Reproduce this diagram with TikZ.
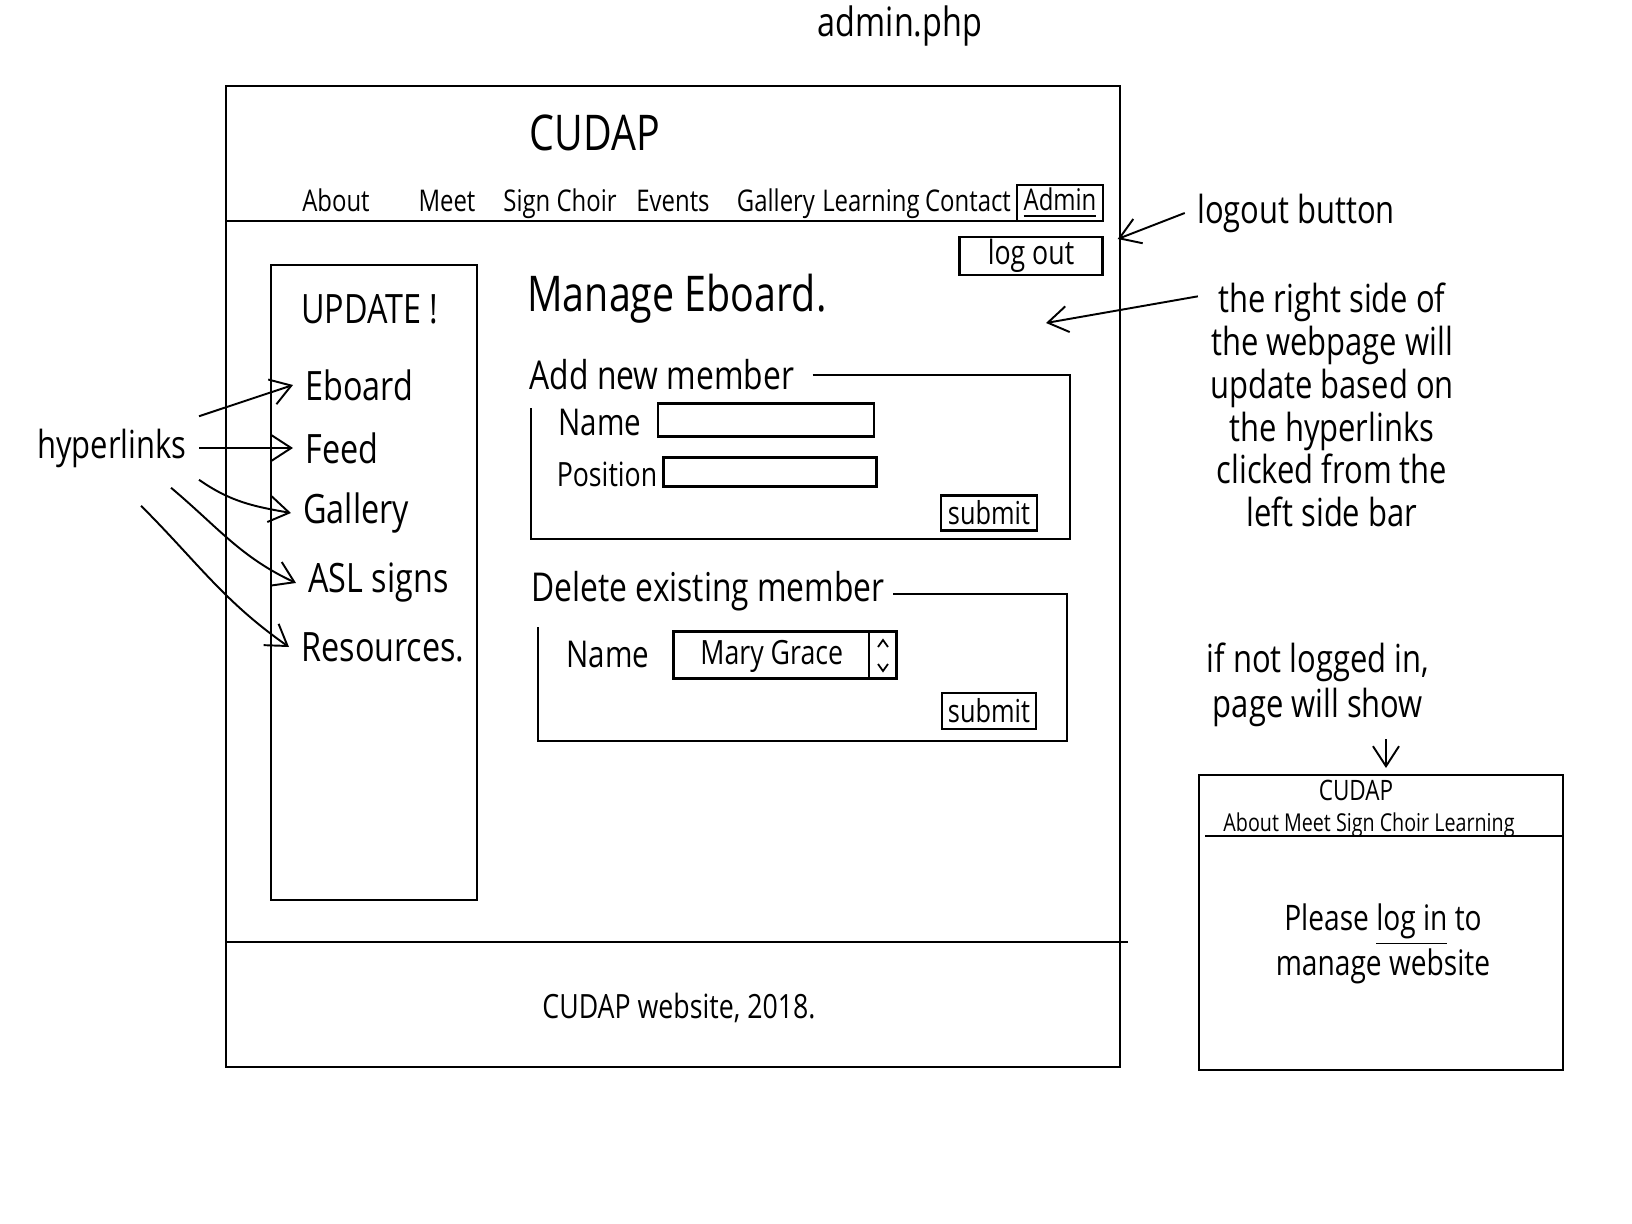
\documentclass[tikz,border=0pt]{standalone}
\usepackage{fontspec}
\setmainfont{Open Sans}[FakeStretch=0.8]
\usetikzlibrary{arrows.meta,calc}

\begin{document}
\begin{tikzpicture}[x=0.01cm,y=-0.01cm,
    >={Straight Barb[length=2mm,width=2.6mm]},
    hand/.style={font=\fontsize{#1}{#1}\selectfont},
    frame/.style={draw,line width=0.75pt},
    field/.style={draw,line width=0.65pt,inner sep=0pt},
    note/.style={align=center}]

\useasboundingbox (0,0) rectangle (1632,1224);

% admin page
\draw[frame] (226,86) rectangle (1120,1067);
\draw[line width=0.7pt] (226,221) -- (1103,221);
\draw[line width=0.7pt] (226,942) -- (1128,942);
\draw[line width=0.7pt] (271,265) rectangle (477,900);

\node[hand=11.5,anchor=base] (file) at (900,36) {admin.php};
\node[hand=14] (logo) at (595,133) {CUDAP};
\foreach \x/\t [count=\i] in {336/About,447/Meet,560/Sign Choir,673/Events,776/Gallery,871/Learning,968/Contact}
    \node[hand=8.5,anchor=base] (nav\i) at (\x,212) {\t};
\node[field,hand=8.5,minimum width=0.86cm,minimum height=0.36cm] (admin) at (1060,203) {\underline{Admin}};
\node[field,hand=9.5,minimum width=1.43cm,minimum height=0.38cm] (logout) at (1031,256) {log out};

\begin{scope}[every node/.style={hand=11.5,anchor=west}]
    \node (update) at (289,309) {UPDATE !};
    \node (eboard) at (293,385) {Eboard};
    \node (feed) at (293,448) {Feed};
    \node (gallery) at (291,513) {Gallery};
    \node (asl) at (296,583) {ASL signs};
    \node (resources) at (289,647) {Resources.};
\end{scope}

% add / delete forms
\node[hand=14,anchor=west] (manage) at (515,299) {Manage Eboard.};
\node[hand=11.3,anchor=west,inner sep=0pt] (addtitle) at (529,375) {Add new member};
\draw[line width=0.65pt] ($(addtitle.east)+(18,0)$) -- (1070,375) -- (1070,539) -- (531,539) -- (531,408);
\node[hand=10.5] (name1) at (600,422) {Name};
\node[hand=9.5] (pos) at (607,474) {Position};
\node[field,minimum width=2.16cm,minimum height=0.33cm] (namebox) at (766,420) {};
\node[field,minimum width=2.13cm,minimum height=0.29cm] (posbox) at (770,472) {};
\node[field,hand=9,minimum width=0.96cm,minimum height=0.35cm] (submit1) at (989,513) {submit};

\node[hand=11.3,anchor=west,inner sep=0pt] (deltitle) at (531,591) {Delete existing member};
\draw[line width=0.65pt] ($(deltitle.east)+(8,3)$) -- (1067,594) -- (1067,741) -- (538,741) -- (538,627);
\node[hand=10.5] (name2) at (608,654) {Name};
\node[field,minimum width=2.23cm,minimum height=0.47cm] (select) at (785,655) {};
\node[hand=9.5,anchor=west] (mary) at (688,656) {Mary Grace};
\draw[line width=0.55pt] (869,632) -- (869,679);
\draw[line width=0.5pt] (878,647) -- (883,640) -- (888,647) (878,664) -- (883,671) -- (888,664);
\node[field,hand=9,minimum width=0.94cm,minimum height=0.36cm] (submit2) at (989,711) {submit};

\node[hand=9.5] (credit) at (679,1008) {CUDAP website, 2018.};

% notes
\node[hand=11] (hyper) at (112,448) {hyperlinks};
\node[hand=11] (lnote) at (1296,213) {logout button};
\node[note,font=\fontsize{11}{12.2}\selectfont] (rnote) at (1332,405)
    {the right side of\\the webpage will\\update based on\\the hyperlinks\\clicked from the\\left side bar};
\coordinate (content) at (1046,323);
\node[note,font=\fontsize{11}{12.8}\selectfont] (notlogged) at (1318,685) {if not logged in,\\page will show};
\coordinate (minitop) at (1386,768);

% logged-out page
\draw[frame] (1199,775) rectangle (1563,1070);
\draw[line width=0.7pt] (1205,836) -- (1563,836);
\node[hand=8,anchor=base] (minilogo) at (1356,800) {CUDAP};
\node[hand=7,anchor=base] (mininav) at (1369,831) {About Meet Sign Choir Learning};
\node[note,font=\fontsize{10}{10.5}\selectfont] (please) at (1383,944) {Please \underline{log in} to\\manage website};

\begin{scope}[every edge/.style={draw,line width=0.55pt}]
    \path [->] (hyper.north east) edge (eboard.west);
    \path [->] (hyper.east) edge (feed.west);
    \path [->] (hyper.south east) edge[out=-35,in=170] (gallery.west);
    \path [->] ($(hyper.south east)+(-28,8)$) edge[out=-40,in=155] (asl.west);
    \path [->] ($(hyper.south east)+(-58,26)$) edge[out=-45,in=145] (resources.west);
    \path [->] (lnote.west) edge ($(logout.east)+(14,-17)$);
    \path [->] ($(rnote.north west)+(0,26)$) edge (content);
    \path [->] (notlogged.south -| minitop) edge (minitop);
\end{scope}

\end{tikzpicture}
\end{document}
